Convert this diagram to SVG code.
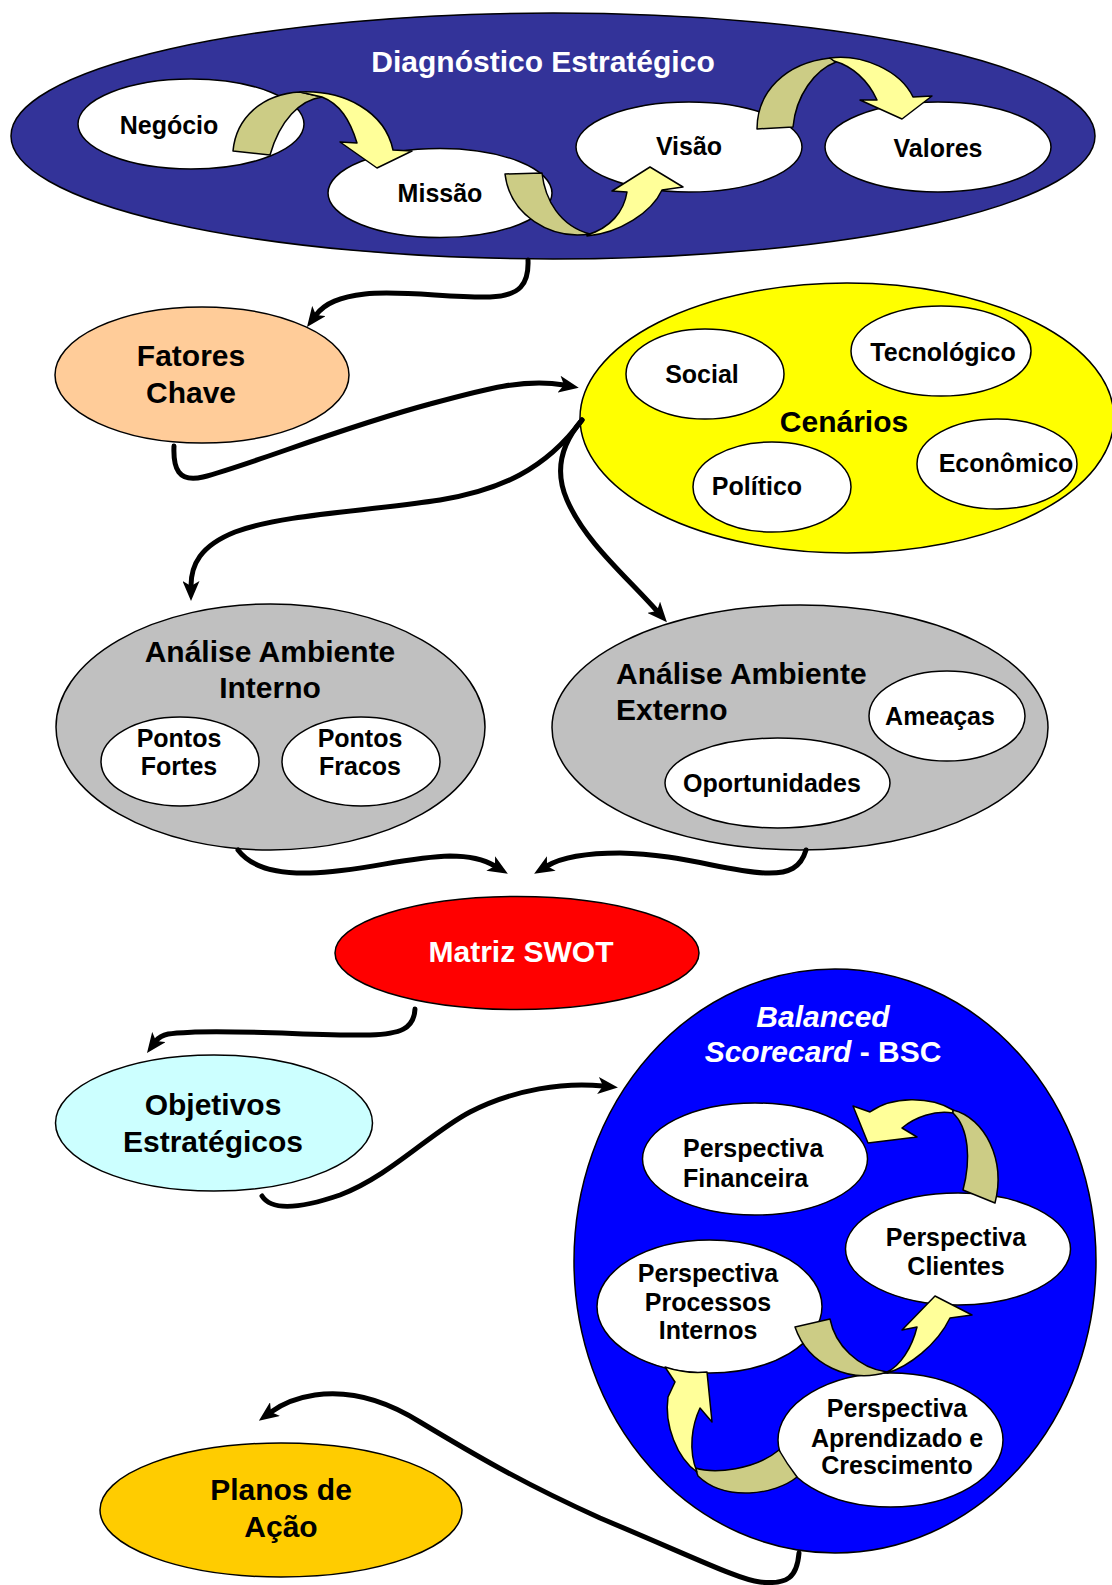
<svg xmlns="http://www.w3.org/2000/svg" width="1112" height="1585" viewBox="0 0 1112 1585">
  <defs>
    <style>
      text { font-family: "Liberation Sans", Arial, sans-serif; font-weight: bold; fill: #000; text-anchor: middle; }
      .s25 { font-size: 25px; }
      .s30 { font-size: 30px; }
      .wt { fill: #fff; }
      .outline { stroke: #000; stroke-width: 1.5; }
      .sub { fill: #fff; stroke: #000; stroke-width: 1.5; }
      .link { fill: none; stroke: #000; stroke-width: 5; stroke-linecap: round; marker-end: url(#ah); }
      .front { fill: #FFFF99; stroke: #000; stroke-width: 1.5; stroke-linejoin: round; }
      .back { fill: #CCCC85; stroke: #000; stroke-width: 1.5; stroke-linejoin: round; }
    </style>
    <marker id="ah" markerUnits="userSpaceOnUse" markerWidth="21" markerHeight="17" viewBox="0 0 21 17" refX="5" refY="8.5" orient="auto">
      <path d="M0,0 L20,8.5 L0,17 L5,8.5 Z" fill="#000"/>
    </marker>
  </defs>

  <rect width="1112" height="1585" fill="#fff"/>

  <!-- Strategic diagnosis cluster -->
  <g id="diagnostico">
    <ellipse cx="553" cy="136" rx="542" ry="123" fill="#333399" class="outline"/>
    <text x="543" y="72" class="s30 wt">Diagnóstico Estratégico</text>
  </g>
  <g id="negocio">
    <ellipse cx="191" cy="124" rx="113" ry="45" class="sub"/>
    <text x="169" y="134" class="s25">Negócio</text>
  </g>
  <g id="missao">
    <ellipse cx="440" cy="193" rx="112" ry="44.5" class="sub"/>
    <text x="440" y="202" class="s25">Missão</text>
  </g>
  <g id="visao">
    <ellipse cx="689" cy="147" rx="113" ry="45" class="sub"/>
    <text x="689" y="155" class="s25">Visão</text>
  </g>
  <g id="valores">
    <ellipse cx="938" cy="147" rx="113" ry="45" class="sub"/>
    <text x="938" y="157" class="s25">Valores</text>
  </g>

  <!-- Key factors -->
  <g id="fatores-chave">
    <ellipse cx="202" cy="375" rx="147" ry="68" fill="#FFCC99" class="outline"/>
    <text x="191" y="366" class="s30">Fatores</text>
    <text x="191" y="403" class="s30">Chave</text>
  </g>

  <!-- Scenarios -->
  <g id="cenarios">
    <ellipse cx="847" cy="418" rx="267" ry="135" fill="#FFFF00" class="outline"/>
    <text x="844" y="432" class="s30">Cenários</text>
  </g>
  <g id="social">
    <ellipse cx="705" cy="374" rx="79" ry="45" class="sub"/>
    <text x="702" y="383" class="s25">Social</text>
  </g>
  <g id="tecnologico">
    <ellipse cx="941" cy="351" rx="90" ry="45" class="sub"/>
    <text x="943" y="361" class="s25">Tecnológico</text>
  </g>
  <g id="politico">
    <ellipse cx="772" cy="487" rx="79" ry="45" class="sub"/>
    <text x="757" y="495" class="s25">Político</text>
  </g>
  <g id="economico">
    <ellipse cx="997" cy="464" rx="80" ry="45" class="sub"/>
    <text x="1006" y="472" class="s25">Econômico</text>
  </g>

  <!-- Internal environment -->
  <g id="ambiente-interno">
    <ellipse cx="270.5" cy="727" rx="214.5" ry="123" fill="#C0C0C0" class="outline"/>
    <text x="270" y="662" class="s30">Análise Ambiente</text>
    <text x="270" y="698" class="s30">Interno</text>
  </g>
  <g id="pontos-fortes">
    <ellipse cx="180" cy="761.5" rx="79" ry="44.5" class="sub"/>
    <text x="179" y="747" class="s25">Pontos</text>
    <text x="179" y="775" class="s25">Fortes</text>
  </g>
  <g id="pontos-fracos">
    <ellipse cx="361" cy="761.5" rx="79" ry="44.5" class="sub"/>
    <text x="360" y="747" class="s25">Pontos</text>
    <text x="360" y="775" class="s25">Fracos</text>
  </g>

  <!-- External environment -->
  <g id="ambiente-externo">
    <ellipse cx="800" cy="727.5" rx="248" ry="122.5" fill="#C0C0C0" class="outline"/>
    <text x="616" y="684" class="s30" style="text-anchor:start">Análise Ambiente</text>
    <text x="616" y="720" class="s30" style="text-anchor:start">Externo</text>
  </g>
  <g id="ameacas">
    <ellipse cx="947" cy="716" rx="78" ry="45" class="sub"/>
    <text x="940" y="725" class="s25">Ameaças</text>
  </g>
  <g id="oportunidades">
    <ellipse cx="777.5" cy="783" rx="112.5" ry="45" class="sub"/>
    <text x="772" y="792" class="s25">Oportunidades</text>
  </g>

  <!-- SWOT -->
  <g id="matriz-swot">
    <ellipse cx="517" cy="953" rx="182" ry="56.5" fill="#FF0000" class="outline"/>
    <text x="521" y="962" class="s30 wt">Matriz SWOT</text>
  </g>

  <!-- Strategic objectives -->
  <g id="objetivos">
    <ellipse cx="214" cy="1123" rx="158.5" ry="68" fill="#CCFFFF" class="outline"/>
    <text x="213" y="1115" class="s30">Objetivos</text>
    <text x="213" y="1152" class="s30">Estratégicos</text>
  </g>

  <!-- Balanced Scorecard -->
  <g id="bsc">
    <ellipse cx="835" cy="1261" rx="261" ry="292" fill="#0000FF" class="outline"/>
    <text x="823" y="1027" class="s30 wt" font-style="italic">Balanced</text>
    <text x="823" y="1062" class="s30 wt"><tspan font-style="italic">Scorecard</tspan> - BSC</text>
  </g>
  <g id="perspectiva-financeira">
    <ellipse cx="755" cy="1159" rx="112.5" ry="56" class="sub"/>
    <text x="683" y="1157" class="s25" style="text-anchor:start">Perspectiva</text>
    <text x="683" y="1187" class="s25" style="text-anchor:start">Financeira</text>
  </g>
  <g id="perspectiva-clientes">
    <ellipse cx="958" cy="1249" rx="112.5" ry="56" class="sub"/>
    <text x="956" y="1246" class="s25">Perspectiva</text>
    <text x="956" y="1275" class="s25">Clientes</text>
  </g>
  <g id="perspectiva-processos">
    <ellipse cx="709.5" cy="1306.5" rx="112.5" ry="66.5" class="sub"/>
    <text x="708" y="1282" class="s25">Perspectiva</text>
    <text x="708" y="1311" class="s25">Processos</text>
    <text x="708" y="1339" class="s25">Internos</text>
  </g>
  <g id="perspectiva-aprendizado">
    <ellipse cx="890.5" cy="1440" rx="112.5" ry="67" class="sub"/>
    <text x="897" y="1417" class="s25">Perspectiva</text>
    <text x="897" y="1447" class="s25">Aprendizado e</text>
    <text x="897" y="1474" class="s25">Crescimento</text>
  </g>

  <!-- Action plans -->
  <g id="planos-acao">
    <ellipse cx="281" cy="1510" rx="181" ry="67" fill="#FFCC00" class="outline"/>
    <text x="281" y="1500" class="s30">Planos de</text>
    <text x="281" y="1537" class="s30">Ação</text>
  </g>

  <!-- Connectors: black flow curves and ribbon arrows -->
  <g id="connectors">
    <path class="link" d="M528,260 C529,284 520,296 490,297 C450,298 400,290 365,294 C340,297 325,303 316,315"/>
    <path class="link" d="M174,446 C173,468 178,483 203,477 C250,465 340,428 430,404 C485,389 525,378 564,385"/>
    <path class="link" d="M582,420 C545,470 500,490 440,500 C360,512 285,514 235,532 C200,546 191,565 191,586"/>
    <path class="link" d="M582,420 C563,442 553,468 567,500 C585,542 627,577 657,611"/>
    <path class="link" d="M238,850 C250,866 272,874 310,873 C360,872 405,857 450,856 C472,856 485,860 495,866"/>
    <path class="link" d="M806,850 C801,867 790,874 765,873 C725,871 680,854 620,853 C588,853 562,857 547,866"/>
    <path class="link" d="M415,1009 C414,1029 400,1034 370,1035 C320,1036 250,1030 195,1032 C172,1033 162,1033 156,1041"/>
    <path class="link" d="M262,1196 C272,1212 302,1208 340,1195 C390,1176 430,1133 470,1112 C515,1089 565,1082 603,1086"/>
    <path class="link" d="M799,1553 C797,1577 788,1585 760,1582 C740,1580 700,1560 600,1518 C520,1482 470,1452 420,1422 C385,1400 350,1390 315,1395 C295,1398 282,1404 271,1412"/>

    <!-- Negócio to Missão -->
    <path class="back" d="M233,151 C236,118 262,94 300,92 L322,97 C300,100 280,120 270,155 Z"/>
    <path class="front" d="M300,92 C345,90 385,112 393,150 L412,151 L377,168 L340,142 L357,143 C350,120 340,104 322,97 Z"/>
    <!-- Missão to Visão -->
    <path class="back" d="M505,174 L542,173 C545,200 560,226 590,234 C550,240 510,215 505,174 Z"/>
    <path class="front" d="M587,236 C620,233 652,212 662,190 L683,187 L650,167 L612,191 L627,192 C624,212 610,228 587,235 Z"/>
    <!-- Visão to Valores -->
    <path class="back" d="M757,129 C757,92 785,63 830,58 L836,62 C815,70 796,95 793,127 Z"/>
    <path class="front" d="M830,58 C862,54 900,70 913,97 L932,96 L902,119 L860,100 L877,100 C868,80 852,66 834,61 Z"/>

    <!-- Clientes to Financeira -->
    <path class="front" d="M953,1110 C930,1096 892,1096 870,1112 L853,1106 L868,1143 L917,1137 L902,1128 C915,1117 935,1110 953,1113 Z"/>
    <path class="back" d="M953,1110 C985,1118 1006,1160 995,1203 L963,1190 C971,1160 969,1128 953,1113 Z"/>
    <!-- Processos to Clientes -->
    <path class="back" d="M795,1327 L830,1319 C835,1345 858,1368 887,1372 C850,1384 808,1365 795,1327 Z"/>
    <path class="front" d="M887,1373 C908,1367 937,1345 950,1318 L972,1315 L935,1296 L902,1330 L917,1327 C912,1348 900,1366 887,1372 Z"/>
    <!-- Aprendizado to Processos -->
    <path class="back" d="M695,1468 C715,1474 755,1470 779,1450 Q787,1464 797,1477 C775,1495 725,1502 698,1476 Z"/>
    <path class="front" d="M665,1367 Q686,1374 707,1372 L712,1422 L700,1408 C692,1425 688,1450 697,1472 C677,1458 664,1425 668,1397 L675,1382 Z"/>
  </g>
</svg>
